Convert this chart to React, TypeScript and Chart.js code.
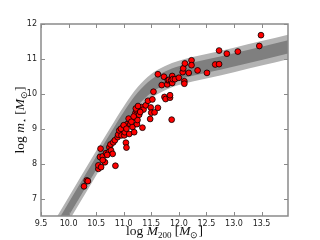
import React, { useEffect, useRef } from "react";
import { Chart, registerables } from "chart.js";

Chart.register(...registerables);

// Relation band (log M200 grid) and its 1σ / 2σ envelopes
const bandX = [9.7, 9.8, 10.0, 10.5, 10.75, 11.0, 11.25, 11.5, 11.75, 12.0, 12.5, 13.0, 13.5, 14.0];
const outerUpper = [6.25, 6.51, 7.04, 8.36, 9.01, 9.64, 10.19, 10.57, 10.8, 10.95, 11.14, 11.32, 11.51, 11.7];
const outerLower = [5.55, 5.81, 6.34, 7.66, 8.31, 8.94, 9.49, 9.87, 10.1, 10.25, 10.44, 10.62, 10.81, 11.0];
const innerUpper = [6.09, 6.35, 6.88, 8.2, 8.85, 9.48, 10.03, 10.41, 10.64, 10.79, 10.98, 11.16, 11.35, 11.54];
const innerLower = [5.71, 5.97, 6.5, 7.82, 8.47, 9.1, 9.65, 10.03, 10.26, 10.41, 10.6, 10.78, 10.97, 11.16];

// Scatter points: halo mass and stellar mass
const haloMass = [
  10.28, 10.33, 10.35, 10.58, 10.54, 10.54, 10.59, 10.57, 10.62, 10.66, 10.68, 10.73, 10.74, 10.76, 10.77,
  10.81, 10.8, 10.85, 10.84, 10.89, 10.9, 10.92, 10.96, 10.99, 11.01, 11.02, 11.04, 11.05, 11.06, 11.09,
  11.1, 11.12, 11.16, 11.19, 11.2, 11.21, 11.23, 11.24, 11.25, 11.27, 11.28, 11.32, 11.34, 11.36, 11.4,
  11.44, 11.48, 11.49, 11.5, 11.52, 11.56, 11.54, 11.62, 11.62, 11.69, 11.73, 11.74, 11.76, 11.79, 11.8,
  11.82, 11.86, 11.88, 11.88, 11.89, 11.84, 11.84, 11.87, 11.93, 12.0, 12.07, 12.08, 12.1, 12.11, 12.1,
  12.18, 12.23, 12.23, 12.34, 12.51, 12.66, 12.73, 12.73, 12.87, 13.07, 13.46, 13.49,
  11.14, 11.18, 11.22, 11.26, 11.3, 10.7, 10.62, 10.95, 11.0, 11.05,
];
const stellarMass = [
  7.35, 7.52, 7.5, 8.43, 7.85, 7.95, 7.9, 8.19, 8.21, 8.04, 8.3, 8.33, 8.47, 8.55, 8.38,
  8.61, 8.28, 7.94, 8.67, 8.76, 8.83, 8.95, 8.81, 9.05, 8.81, 8.9, 8.6, 8.46, 9.13, 9.29,
  8.85, 9.13, 9.05, 8.9, 9.32, 9.44, 9.53, 9.13, 9.25, 9.58, 9.4, 9.62, 9.03, 9.55, 9.67,
  9.8, 9.28, 9.61, 9.46, 9.84, 9.47, 10.06, 9.6, 10.56, 10.25, 10.49, 9.91, 9.85, 10.27, 10.39,
  10.4, 10.38, 10.51, 10.31, 10.42, 9.89, 9.96, 9.26, 10.42, 10.46, 10.62, 10.73, 10.36, 10.87, 10.29,
  10.6, 10.96, 10.82, 10.67, 10.6, 10.84, 10.85, 11.24, 11.15, 11.21, 11.37, 11.68,
  9.2, 9.35, 9.58, 9.65, 9.48, 8.25, 8.1, 9.0, 9.1, 9.0,
];

const xTicks = [9.5, 10.0, 10.5, 11.0, 11.5, 12.0, 12.5, 13.0, 13.5];
const yTicks = [7, 8, 9, 10, 11, 12];

const FRAME = "#8a8a8a";

type Part = { t: string; font: string; dy?: number };

function drawRich(ctx: CanvasRenderingContext2D, parts: Part[], cx: number, cy: number) {
  let total = 0;
  for (const p of parts) {
    ctx.font = p.font;
    total += ctx.measureText(p.t).width;
  }
  let x = cx - total / 2;
  ctx.textBaseline = "alphabetic";
  ctx.textAlign = "left";
  for (const p of parts) {
    ctx.font = p.font;
    ctx.fillText(p.t, x, cy + (p.dy || 0));
    x += ctx.measureText(p.t).width;
  }
}

const framePlugin = {
  id: "mplFrame",
  afterDraw(chart: any) {
    const { ctx, chartArea } = chart;
    const { left, right, top, bottom } = chartArea;
    const xs = chart.scales.x;
    const ys = chart.scales.y;
    ctx.save();
    ctx.strokeStyle = FRAME;
    ctx.lineWidth = 1;
    ctx.beginPath();
    const L = 4;
    for (const v of xTicks) {
      const px = Math.round(xs.getPixelForValue(v)) + 0.5;
      ctx.moveTo(px, bottom);
      ctx.lineTo(px, bottom - L);
      ctx.moveTo(px, top);
      ctx.lineTo(px, top + L);
    }
    for (const v of yTicks) {
      const py = Math.round(ys.getPixelForValue(v)) + 0.5;
      ctx.moveTo(left, py);
      ctx.lineTo(left + L, py);
      ctx.moveTo(right, py);
      ctx.lineTo(right - L, py);
    }
    ctx.stroke();
    ctx.lineWidth = 1.5;
    ctx.strokeRect(left, top, right - left, bottom - top);

    ctx.fillStyle = "#111";
    const serif = "'Liberation Serif', serif";
    const big = `13.5px ${serif}`;
    const it = `italic 13.5px ${serif}`;
    const sub = `9px ${serif}`;
    const star = `8px 'DejaVu Sans'`;
    drawRich(
      ctx,
      [
        { t: "log ", font: big },
        { t: "M", font: it },
        { t: "200", font: sub, dy: 3 },
        { t: " [", font: big },
        { t: "M", font: it },
        { t: "\u2299", font: sub, dy: 3 },
        { t: "]", font: big },
      ],
      (left + right) / 2,
      235
    );
    ctx.translate(24, (top + bottom) / 2);
    ctx.rotate(-Math.PI / 2);
    drawRich(
      ctx,
      [
        { t: "log ", font: big },
        { t: "m", font: it },
        { t: "\u22c6", font: star, dy: 3 },
        { t: " [", font: big },
        { t: "M", font: it },
        { t: "\u2299", font: sub, dy: 3 },
        { t: "]", font: big },
      ],
      0,
      0
    );
    ctx.restore();
  },
};

export default function App() {
  const ref = useRef<HTMLCanvasElement | null>(null);
  useEffect(() => {
    if (!ref.current) return;
    const band = (arr: number[]) => bandX.map((x, i) => ({ x, y: arr[i] }));
    const lineBase = {
      type: "line" as const,
      borderWidth: 0,
      pointRadius: 0,
      cubicInterpolationMode: "monotone" as const,
    };
    const chart = new Chart(ref.current, {
      type: "line",
      data: {
        datasets: [
          {
            type: "scatter",
            data: haloMass.map((x, i) => ({ x, y: stellarMass[i] })),
            backgroundColor: "#ff0000",
            borderColor: "#000000",
            borderWidth: 0.8,
            pointRadius: 2.9,
          } as any,
          { ...lineBase, data: band(innerUpper), fill: "+1", backgroundColor: "#7f7f7f", borderColor: "rgba(0,0,0,0)" },
          { ...lineBase, data: band(innerLower), fill: false, borderColor: "rgba(0,0,0,0)" },
          { ...lineBase, data: band(outerUpper), fill: "+1", backgroundColor: "#b3b3b3", borderColor: "rgba(0,0,0,0)" },
          { ...lineBase, data: band(outerLower), fill: false, borderColor: "rgba(0,0,0,0)" },
        ],
      },
      options: {
        animation: false,
        responsive: false,
        events: [],
        layout: { padding: { left: 0, right: 32, top: 24, bottom: 0 } },
        plugins: { legend: { display: false }, tooltip: { enabled: false } },
        scales: {
          x: {
            type: "linear",
            min: 9.5,
            max: 13.98,
            grid: { display: false, drawTicks: false },
            border: { display: false },
            afterBuildTicks: (s: any) => {
              s.ticks = xTicks.map((v) => ({ value: v }));
            },
            afterFit: (s: any) => {
              s.height = 24;
            },
            ticks: {
              padding: 3,
              maxRotation: 0,
              autoSkip: false,
              color: "#222",
              font: { family: "'DejaVu Sans'", size: 8 },
              callback: (v: any) => Number(v).toFixed(1),
            },
          },
          y: {
            type: "linear",
            min: 6.5,
            max: 12,
            grid: { display: false, drawTicks: false },
            border: { display: false },
            afterBuildTicks: (s: any) => {
              s.ticks = yTicks.map((v) => ({ value: v }));
            },
            afterFit: (s: any) => {
              s.width = 41;
            },
            ticks: {
              padding: 4,
              autoSkip: false,
              color: "#222",
              font: { family: "'DejaVu Sans'", size: 8 },
              callback: (v: any) => String(v),
            },
          },
        },
      },
      plugins: [framePlugin],
    });
    return () => chart.destroy();
  }, []);
  return (
    <div style={{ position: "absolute", left: 0, top: 0, width: 320, height: 240, background: "#fff" }}>
      <canvas ref={ref} width={320} height={240} style={{ width: 320, height: 240 }} />
    </div>
  );
}
